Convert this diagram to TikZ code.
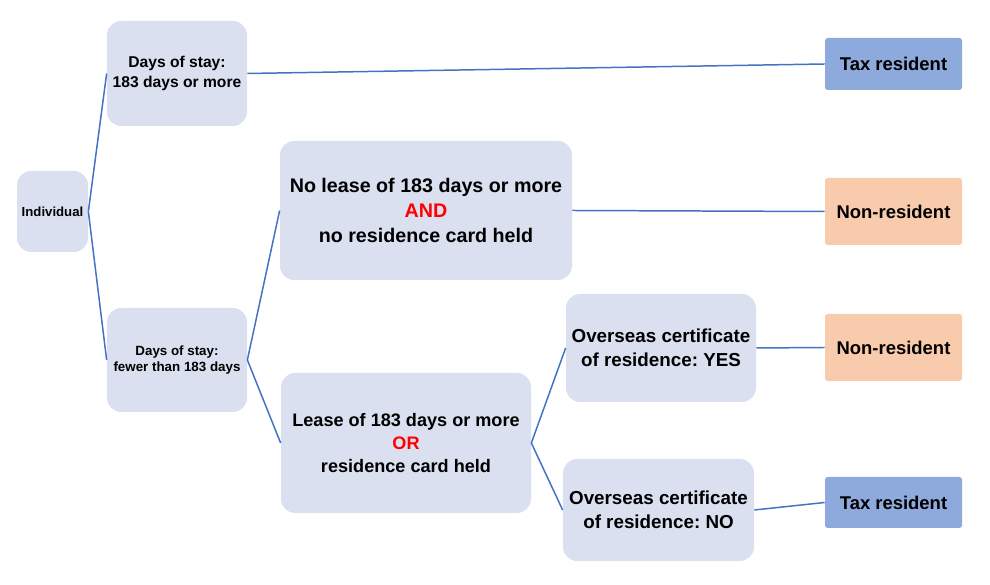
\documentclass[tikz,border=0pt]{standalone}
\usepackage{fontspec}
\setmainfont{Liberation Sans}
\usepackage{tikz}
\definecolor{boxgray}{HTML}{DAE0EF}
\definecolor{taxblue}{HTML}{8EA9DB}
\definecolor{nonpeach}{HTML}{F8CBAD}
\definecolor{linkblue}{HTML}{4472C4}
\frenchspacing

\begin{document}
\begin{tikzpicture}[
  stepbox/.style={fill=boxgray, rounded corners=8pt, align=center, inner sep=0pt, font=\bfseries},
  result/.style={rounded corners=1.5pt, align=center, inner sep=0pt, minimum width=2.74cm, font=\bfseries\fontsize{10.5}{13}\selectfont},
  link/.style={draw=linkblue, line width=0.85pt}]
  \useasboundingbox (0,0) rectangle (19.8,11.7);

  \node [stepbox, minimum width=1.42cm, minimum height=1.62cm, font=\bfseries\fontsize{7.5}{9.5}\selectfont] (indiv) at (1.05,7.47) {Individual};

  \node [stepbox, minimum width=2.8cm, minimum height=2.1cm, font=\bfseries\fontsize{8.9}{11.3}\selectfont] (long) at (3.54,10.23) {Days of stay:\\183 days or more};
  \node [stepbox, minimum width=2.8cm, minimum height=2.08cm, font=\bfseries\fontsize{7.6}{9.6}\selectfont] (short) at (3.54,4.5) {Days of stay:\\fewer than 183 days};

  \node [stepbox, minimum width=5.84cm, minimum height=2.78cm, font=\bfseries\fontsize{11.2}{14.2}\selectfont] (nolease) at (8.52,7.49) {No lease of 183 days or more\\\textcolor{red}{AND}\\no residence card held};
  \node [stepbox, minimum width=5.0cm, minimum height=2.8cm, font=\bfseries\fontsize{10.3}{13.3}\selectfont] (lease) at (8.12,2.84) {Lease of 183 days or more\\\textcolor{red}{OR}\\residence card held};

  \node [stepbox, minimum width=3.8cm, minimum height=2.16cm, font=\bfseries\fontsize{10.7}{13.6}\selectfont] (certyes) at (13.22,4.74) {Overseas certificate\\of residence: YES};
  \node [stepbox, minimum width=3.82cm, minimum height=2.04cm, font=\bfseries\fontsize{10.7}{13.6}\selectfont] (certno) at (13.17,1.5) {Overseas certificate\\of residence: NO};

  \node [result, fill=taxblue, minimum height=1.04cm] (taxa) at (17.87,10.42) {Tax resident};
  \node [result, fill=nonpeach, minimum height=1.34cm] (nona) at (17.87,7.47) {Non-resident};
  \node [result, fill=nonpeach, minimum height=1.34cm] (nonb) at (17.87,4.75) {Non-resident};
  \node [result, fill=taxblue, minimum height=1.02cm] (taxb) at (17.87,1.65) {Tax resident};

  \draw [link] (indiv.east) -- (long.west);
  \draw [link] (indiv.east) -- (short.west);
  \draw [link] (long.east) -- (taxa.west);
  \draw [link] (short.east) -- (nolease.west);
  \draw [link] (short.east) -- (lease.west);
  \draw [link] (nolease.east) -- (nona.west);
  \draw [link] (lease.east) -- (certyes.west);
  \draw [link] (lease.east) -- (certno.west);
  \draw [link] (certyes.east) -- (nonb.west);
  \draw [link] (certno.east) -- (taxb.west);
\end{tikzpicture}
\end{document}
